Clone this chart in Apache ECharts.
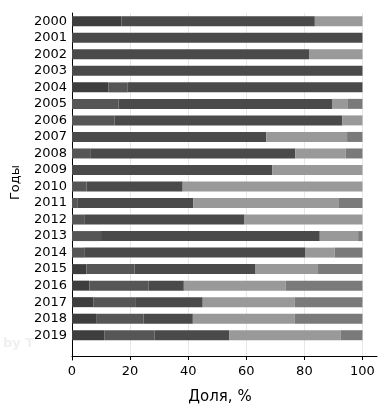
<!DOCTYPE html>
<html>
<head>
<meta charset="utf-8">
<script src="https://cdn.jsdelivr.net/npm/echarts@6/dist/echarts.min.js"></script>
<style>html,body{margin:0;padding:0;background:#fff;}#c{width:379px;height:410px;}</style>
</head>
<body>
<div id="c"></div>
<script>
const years = ['2000','2001','2002','2003','2004','2005','2006','2007','2008','2009','2010','2011','2012','2013','2014','2015','2016','2017','2018','2019'];
const s1 = [17, 0, 0, 0, 12.6, 0, 0, 0, 0, 0, 0, 0, 0, 0, 0, 5, 6, 7.3, 8.3, 11.1];
const s2 = [0, 0, 0, 0, 6.6, 16, 14.6, 0, 6.5, 0, 5, 2, 4.2, 10, 4.2, 16.5, 20.4, 14.7, 16.3, 17.3];
const s3 = [66.6, 100, 81.6, 100, 80.8, 73.5, 78.5, 66.9, 70.4, 69, 33.1, 39.8, 55.2, 75.3, 76.2, 41.7, 12.1, 23, 17, 25.8];
const s4 = [16.4, 0, 18.4, 0, 0, 5.5, 6.9, 27.8, 17.3, 31, 61.9, 50.1, 40.6, 13.2, 10, 21.5, 35.1, 31.7, 35.1, 38.2];
const s5 = [0, 0, 0, 0, 0, 5, 0, 5.3, 5.8, 0, 0, 8.1, 0, 1.5, 9.6, 15.3, 26.4, 23.3, 23.3, 7.6];
const xTicks = [0, 20, 40, 60, 80, 100];

const colors = ['#3e3e3e', '#565656', '#4a4a4a', '#999999', '#7a7a7a'];
const cats = years.concat(['']);
function pad(arr) { return arr.concat(['-']); }
const seriesData = [s1, s2, s3, s4, s5];

const chart = echarts.init(document.getElementById('c'), null, {renderer: 'canvas'});
chart.setOption({
  animation: false,
  backgroundColor: '#fff',
  grid: {left: 72, right: 2, top: 13, bottom: 37, containLabel: false},
  xAxis: {
    type: 'value', min: 0, max: 105, offset: -4,
    name: 'Доля, %', nameLocation: 'middle', nameGap: 34,
    nameTextStyle: {fontFamily: 'DejaVu Sans', fontSize: 15, color: '#000', padding: [0, 9, 0, 0]},
    axisLine: {show: true, lineStyle: {color: '#000', width: 1}},
    axisTick: {show: true, length: 4, lineStyle: {color: '#000'}, customValues: xTicks},
    axisLabel: {customValues: xTicks, fontFamily: 'DejaVu Sans', fontSize: 13, color: '#000', margin: 9},
    splitLine: {show: true, lineStyle: {color: '#e8e8e8', width: 1}}
  },
  yAxis: {
    type: 'category', data: cats, inverse: true,
    name: 'Годы', nameLocation: 'middle', nameGap: 50, nameRotate: 90,
    nameTextStyle: {fontFamily: 'DejaVu Sans', fontSize: 13, color: '#000', padding: [0, 0, 0, 8]},
    axisLine: {show: true, lineStyle: {color: '#000', width: 1}},
    axisTick: {show: false},
    axisLabel: {fontFamily: 'DejaVu Sans', fontSize: 13, color: '#000', margin: 5, interval: 0},
    splitLine: {show: false}
  },
  graphic: [{
    type: 'text', left: 3, top: 337, z: -1,
    style: {text: 'by T', fontFamily: 'DejaVu Sans', fontSize: 13, fontWeight: 'bold', fill: '#f0f0f0'}
  }],
  series: seriesData.map((d, i) => ({
    type: 'bar', stack: 'total', barWidth: 10,
    data: pad(d),
    itemStyle: {color: colors[i]},
    emphasis: {disabled: true}
  }))
});
</script>
</body>
</html>
